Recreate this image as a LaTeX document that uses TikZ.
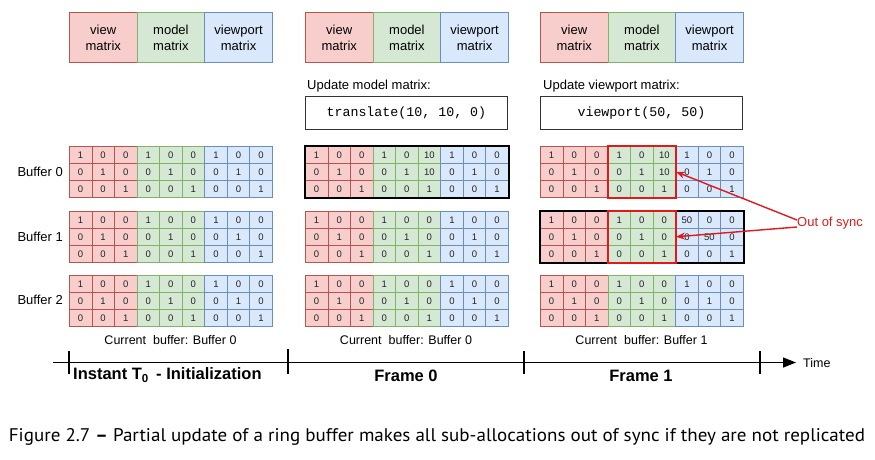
\documentclass[tikz,border=0pt]{standalone}
\usepackage{fontspec}
\setmainfont{Liberation Sans}
\setmonofont{Liberation Mono}
\newfontfamily\capfont[FakeStretch=1.04]{PT Sans}
\usetikzlibrary{arrows.meta}

% draw.io style palette
\definecolor{redfill}{HTML}{F8CECC}
\definecolor{redline}{HTML}{B85450}
\definecolor{greenfill}{HTML}{D5E8D4}
\definecolor{greenline}{HTML}{82B366}
\definecolor{bluefill}{HTML}{DAE8FC}
\definecolor{blueline}{HTML}{6C8EBF}
\definecolor{alert}{HTML}{E0191B}
\definecolor{ink}{HTML}{222222}

\tikzset{
  cellbase/.style={draw, line width=0.6pt, inner sep=0pt, anchor=north west,
    minimum width=22.56pt, minimum height=17pt, text=ink,
    font=\fontsize{9.5}{11}\selectfont},
  vcell/.style={cellbase, fill=redfill, draw=redline},
  mcell/.style={cellbase, fill=greenfill, draw=greenline},
  pcell/.style={cellbase, fill=bluefill, draw=blueline},
  headbox/.style={draw, line width=0.8pt, anchor=north west, minimum width=67.67pt,
    minimum height=50pt, inner sep=0pt, align=center,
    font=\fontsize{13}{16}\selectfont},
  cmdbox/.style={draw=black!80, line width=0.8pt, anchor=north west, minimum width=202pt,
    minimum height=33pt, inner sep=0pt, font=\ttfamily\fontsize{13.3}{15}\selectfont},
  plainlbl/.style={inner sep=0pt, font=\fontsize{13}{15}\selectfont},
  framelbl/.style={inner sep=0pt, font=\bfseries\fontsize{16.5}{19}\selectfont},
  curlbl/.style={inner sep=0pt, font=\fontsize{12.5}{14}\selectfont},
  current/.style={line width=2pt, draw=black},
  stale/.style={line width=1.8pt, draw=alert},
  axisline/.style={line width=1.4pt, -{Triangle[length=13pt,width=10pt]}},
  tick/.style={line width=1.4pt},
  syncarrow/.style={line width=1.4pt, draw=alert, -{Stealth[length=9pt,width=7pt]}},
}

% one 3x3 matrix: name, left, top, cell style, list macro of nine entries
\newcommand\cellblock[5]{%
  \foreach \v [count=\k from 0] in #5{%
    \pgfmathtruncatemacro\rr{\k/3}%
    \pgfmathtruncatemacro\cc{\k-3*\rr}%
    \node[#4] (#1-\rr-\cc) at ({#2+\cc*22.56},{#3+\rr*17}) {\v};
  }%
}
% one buffer: view, model and viewport matrices side by side
\newcommand\bufrow[6]{%
  \cellblock{#1-v}{#2}{#3}{vcell}{#4}%
  \cellblock{#1-m}{#2+67.67}{#3}{mcell}{#5}%
  \cellblock{#1-p}{#2+135.33}{#3}{pcell}{#6}%
}
% matrix legend above each column
\newcommand\legend[2]{%
  \node[headbox, fill=redfill, draw=redline] (#1-hv) at (#2,12) {view\\matrix};
  \node[headbox, fill=greenfill, draw=greenline] (#1-hm) at ({#2+67.67},12) {model\\matrix};
  \node[headbox, fill=bluefill, draw=blueline] (#1-hp) at ({#2+135.33},12) {viewport\\matrix};
}

\def\Id{1,0,0,0,1,0,0,0,1}
\def\Tr{1,0,10,0,1,10,0,0,1}
\def\Vp{50,0,0,0,50,0,0,0,1}

\begin{document}
\begin{tikzpicture}[x=1pt, y=-1pt]
\useasboundingbox (0,0) rectangle (875,459);

% legends
\legend{A}{69}
\legend{B}{305}
\legend{C}{540}

% update commands
\node[plainlbl, anchor=west] (Bupd) at (307,86) {Update model matrix:};
\node[cmdbox] (Bcmd) at (305,96) {translate(10, 10, 0)};
\node[plainlbl, anchor=west] (Cupd) at (543,86) {Update viewport matrix:};
\node[cmdbox] (Ccmd) at (540,96) {viewport(50, 50)};

% buffer labels
\node[plainlbl, anchor=east] (L0) at (63,172) {Buffer 0};
\node[plainlbl, anchor=east] (L1) at (63,236.5) {Buffer 1};
\node[plainlbl, anchor=east] (L2) at (63,300) {Buffer 2};

% initial state
\bufrow{A0}{69}{146}{\Id}{\Id}{\Id}
\bufrow{A1}{69}{211}{\Id}{\Id}{\Id}
\bufrow{A2}{69}{275}{\Id}{\Id}{\Id}

% frame 0
\bufrow{B0}{305}{146}{\Id}{\Tr}{\Id}
\bufrow{B1}{305}{211}{\Id}{\Id}{\Id}
\bufrow{B2}{305}{275}{\Id}{\Id}{\Id}
\draw[current] (B0-v-0-0.north west) rectangle (B0-p-2-2.south east);

% frame 1
\bufrow{C0}{540}{146}{\Id}{\Tr}{\Id}
\bufrow{C1}{540}{211}{\Id}{\Id}{\Vp}
\bufrow{C2}{540}{275}{\Id}{\Id}{\Id}
\draw[current] (C1-v-0-0.north west) rectangle (C1-p-2-2.south east);
\draw[stale] (C0-m-0-0.north west) rectangle (C0-m-2-2.south east);
\draw[stale] (C1-m-0-0.north west) rectangle (C1-m-2-2.south east);

% out of sync callout
\node[plainlbl, text=alert, anchor=west] (oos) at (797,223) {Out of sync};
\draw[syncarrow] ([yshift=3pt]oos.west) -- (C0-m-1-2.east);
\draw[syncarrow] ([yshift=-4pt]oos.west) -- (C1-m-1-2.east);

% current buffer notes
\node[curlbl] (cA) at (170.5,340) {Current\ \ buffer: Buffer 0};
\node[curlbl] (cB) at (406,340) {Current\ \ buffer: Buffer 0};
\node[curlbl] (cC) at (641.5,340) {Current\ \ buffer: Buffer 1};

% time axis
\coordinate (ax0) at (53,362.5);
\coordinate (ax1) at (796,362.5);
\draw[axisline] (ax0) -- (ax1);
\node[curlbl, anchor=west] (time) at (803,363) {Time};
\coordinate (k0a) at (69,351); \coordinate (k0b) at (69,374);
\coordinate (k1a) at (288,349); \coordinate (k1b) at (288,374);
\coordinate (k2a) at (524,351); \coordinate (k2b) at (524,374);
\coordinate (k3a) at (760,351); \coordinate (k3b) at (760,374);
\draw[tick] (k0a) -- (k0b);
\draw[tick] (k1a) -- (k1b);
\draw[tick] (k2a) -- (k2b);
\draw[tick] (k3a) -- (k3b);

\node[framelbl, anchor=west] (fI) at (73,375) {Instant T\textsubscript{0}\, - Initialization};
\node[framelbl] (f0) at (406,375.5) {Frame 0};
\node[framelbl] (f1) at (641,375.5) {Frame 1};

% caption
\node[inner sep=0pt, font=\capfont\fontsize{18.3}{21}\selectfont] (cap) at (437,437)
  {Figure 2.7 \textbf{–} Partial update of a ring buffer makes all sub-allocations out of sync if they are not replicated};
\end{tikzpicture}
\end{document}
